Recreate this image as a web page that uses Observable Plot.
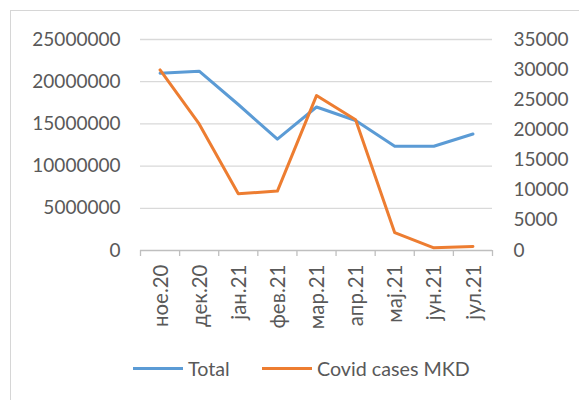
<!DOCTYPE html>
<html><head><meta charset="utf-8">
<script src="https://cdn.jsdelivr.net/npm/d3@7"></script>
<script src="https://cdn.jsdelivr.net/npm/@observablehq/plot@0.6"></script>
<style>
html,body{margin:0;padding:0;background:#fff;}
body{font-family:Lato,"Open Sans",sans-serif;color:#595959;width:579px;height:400px;overflow:hidden;position:relative;}
#frame{position:absolute;left:10px;top:10px;width:600px;height:420px;border:1.5px solid #d6d6d6;box-sizing:border-box;pointer-events:none;z-index:10;}
#chart svg{display:block;}
#legend{position:relative;height:55px;font-size:19.7px;}
.item{position:absolute;top:12px;display:flex;align-items:center;}
.sw{width:50px;height:3px;margin-right:5px;}
</style></head>
<body>
<div id="chart"></div>
<div id="legend"></div>
<div id="frame"></div>
<script>
const months = ["ное.20","дек.20","јан.21","фев.21","мар.21","апр.21","мај.21","јун.21","јул.21"];
const total = [21000000,21250000,17300000,13200000,17000000,15400000,12350000,12350000,13800000];
const covid = [29950,21000,9400,9850,25700,21700,2950,450,650];
const leftTicks = [0,5000000,10000000,15000000,20000000,25000000];
const rightTicks = [0,5000,10000,15000,20000,25000,30000,35000];
const seriesNames = ["Total","Covid cases MKD"];
const colors = ["#5b9bd5","#ed7d31"];

const k = 25000000/35000;
const totalData = months.map((m,i)=>({i:i+0.5, v:total[i]}));
const covidData = months.map((m,i)=>({i:i+0.5, v:covid[i]*k}));

const chart = Plot.plot({
  width:579, height:345,
  marginLeft:140, marginRight:87, marginTop:39, marginBottom:95,
  style:{fontFamily:"Lato, 'Open Sans', sans-serif", fontSize:"19px", color:"#595959", background:"#fff"},
  x:{type:"linear", domain:[0, months.length], axis:null},
  y:{domain:[0,25000000], axis:null},
  marks:[
    Plot.ruleY(leftTicks.filter(d=>d>0), {stroke:"#d9d9d9", strokeWidth:1.3}),
    Plot.ruleY([0], {stroke:"#bfbfbf", strokeWidth:1.3}),
    Plot.axisX({ticks:d3.range(months.length+1), tickFormat:()=>"", tickSize:6, stroke:"#bfbfbf", strokeWidth:1.3, label:null}),
    Plot.axisX({ticks:months.map((m,i)=>i+0.5), tickFormat:(d)=>months[Math.round(d-0.5)], tickSize:0, tickPadding:14, tickRotate:-90, fontSize:20.5, dx:1, label:null}),
    Plot.axisY({ticks:leftTicks, tickFormat:d=>String(d), tickSize:0, tickPadding:20, fontSize:19, label:null}),
    Plot.axisY({anchor:"right", ticks:rightTicks.map(v=>v*k), tickFormat:d=>String(Math.round(d/k)), tickSize:0, tickPadding:21, fontSize:19, label:null}),
    Plot.line(totalData, {x:"i", y:"v", stroke:colors[0], strokeWidth:3}),
    Plot.line(covidData, {x:"i", y:"v", stroke:colors[1], strokeWidth:3})
  ]
});
document.getElementById("chart").appendChild(chart);

const lg = document.getElementById("legend");
const lefts = [133, 262];
seriesNames.forEach((n,i)=>{
  const it = document.createElement("div");
  it.className="item"; it.style.left = lefts[i]+"px";
  const sw = document.createElement("div"); sw.className="sw"; sw.style.background=colors[i];
  const t = document.createElement("span"); t.textContent=n;
  it.appendChild(sw); it.appendChild(t); lg.appendChild(it);
});
</script>
</body></html>
